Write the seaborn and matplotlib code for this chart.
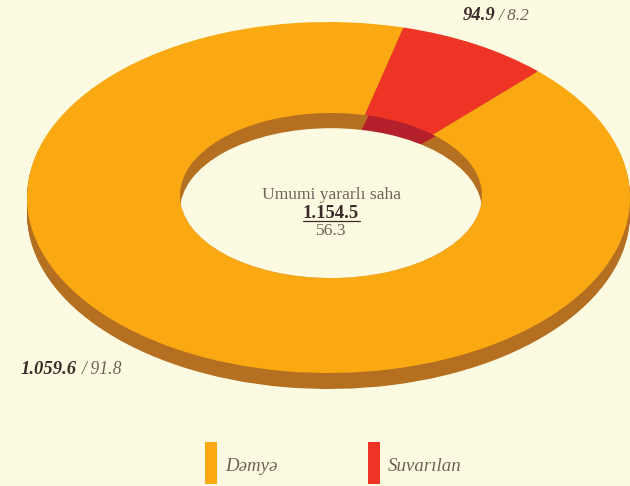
import numpy as np
import matplotlib
matplotlib.use("Agg")
import matplotlib.pyplot as plt
from matplotlib.patches import Patch
from matplotlib.transforms import Affine2D
import seaborn as sns

categories = ["Dəmyə", "Suvarılan"]
areas = [1059.6, 94.9]
area_labels = ["1.059.6", "94.9"]
share_labels = ["91.8", "8.2"]
center_title = "Umumi yararlı saha"
center_total = "1.154.5"
center_share = "56.3"

BG = "#FCFBE1"
top_colors = ["#FBA912", "#EE3424"]
wall_colors = ["#B56F21", "#B3202C"]
DARK = "#3A2A2A"
MID = "#6E6258"

sns.set_theme(style="white", rc={"figure.facecolor": BG, "axes.facecolor": BG})
plt.rcParams["font.family"] = ["Liberation Serif", "DejaVu Serif"]

W, H = 630, 486
CX, CY, RX, RY = 328.5, 197.5, 301.5, 175.5
px = lambda x: (x - CX) / RX
py = lambda y: (CY - y) / RY

fig = plt.figure(figsize=(W / 100, H / 100), dpi=100)
ax = fig.add_axes([0, 0, 1, 1])

depth = 16 / RY
inner = 151 / RX
inner_k = (82.5 / RY) / inner
start = 75.6
nowidth = dict(linewidth=0)

# outer side wall, built from stacked layers
for d in np.linspace(depth, 0.005, 18):
    ax.pie(areas, colors=wall_colors[:1] * 2, radius=1, center=(0, -d),
           startangle=start, wedgeprops=nowidth)
# top face
ax.pie(areas, colors=top_colors, radius=1, startangle=start, wedgeprops=nowidth)

# the hole is slightly offset and flatter than the rim
hole_tf = Affine2D().scale(1, inner_k).translate(px(331), py(195.5)) + ax.transData
wall_wedges, _ = ax.pie(areas, colors=wall_colors, radius=inner, startangle=start,
                        wedgeprops=nowidth)
for w in wall_wedges:
    w.set_transform(hole_tf)
base, _ = ax.pie([1], colors=["none"], radius=inner, wedgeprops=nowidth)
base[0].set_transform(hole_tf)
floor, _ = ax.pie([1], colors=[BG], radius=inner, wedgeprops=nowidth)
floor[0].set_transform(Affine2D().scale(1, inner_k).translate(px(331), py(195.5) - depth * 0.95)
                       + ax.transData)
floor[0].set_clip_on(True)  # pie wedges switch clipping off by default
floor[0].set_clip_path(base[0].get_path(), hole_tf)

ax.set_aspect("auto")
ax.set_xlim(px(0), px(W))
ax.set_ylim(py(H), py(0))
ax.axis("off")

ax.text(px(331), py(195), center_title, ha="center", va="center", fontsize=12.6, color=MID)
ax.text(px(331), py(213), center_total, ha="center", va="center", fontsize=13.4,
        fontweight="bold", color=DARK)
ax.plot([px(303), px(360)], [py(221), py(221)], color=DARK, lw=0.9)
ax.text(px(331), py(231), center_share, ha="center", va="center", fontsize=12.6, color=MID)

ax.text(px(77), py(369), area_labels[0], ha="right", va="center", fontsize=13.4,
        fontweight="bold", fontstyle="italic", color=DARK)
ax.text(px(82), py(369), f"/ {share_labels[0]}", ha="left", va="center", fontsize=12.8,
        fontstyle="italic", color=MID)
ax.text(px(495), py(16), area_labels[1], ha="right", va="center", fontsize=13.4,
        fontweight="bold", fontstyle="italic", color=DARK)
ax.text(px(499), py(16), f"/ {share_labels[1]}", ha="left", va="center", fontsize=12.4,
        fontstyle="italic", color=MID)

handles = [Patch(facecolor=c, edgecolor="none", label=n) for c, n in zip(top_colors, categories)]
leg = fig.legend(handles=handles, ncol=2, loc="lower left",
                 bbox_to_anchor=(205 / W, 2 / H), frameon=False, borderpad=0, borderaxespad=0,
                 handlelength=0.635, handleheight=3.05, handletextpad=0.42, columnspacing=4.8,
                 prop=dict(family="Liberation Serif", style="italic", size=13.6))
for t in leg.get_texts():
    t.set_color(MID)
    t.set_y(-3)

fig.savefig("out.png", dpi=100, facecolor=BG)
